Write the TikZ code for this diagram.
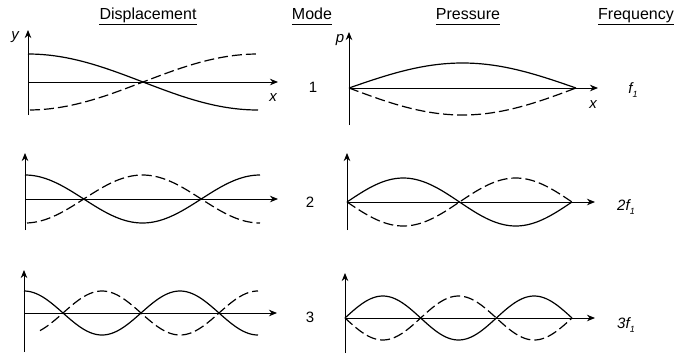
\documentclass[tikz,border=0pt]{standalone}
\usepackage{fontspec}
\setmainfont{Liberation Sans}
\usetikzlibrary{arrows.meta}
\newcommand{\subone}{\raisebox{-3.5pt}{\fontsize{9}{9}\selectfont 1}}
\begin{document}
\begin{tikzpicture}[x=1pt,y=-1pt,
  axis/.style={line width=0.9pt,-{Stealth[length=8pt,width=6.5pt,inset=2.5pt]}},
  wave/.style={line width=1.2pt,smooth},
  dwave/.style={line width=1.2pt,smooth,dash pattern=on 10pt off 4pt},
  head/.style={font=\fontsize{16}{16}\selectfont,inner sep=0pt,anchor=base},
  lab/.style={font=\fontsize{15}{15}\selectfont\itshape,inner sep=0pt},
  num/.style={font=\fontsize{15}{15}\selectfont,inner sep=0pt}]
\useasboundingbox (0,0) rectangle (675,357);
% headers
\node[head] (hd) at (148,19.5) {Displacement};
\node[head] (hm) at (312,19.5) {Mode};
\node[head] (hp) at (468,19.5) {Pressure};
\node[head] (hf) at (636,19.5) {Frequency};
\foreach \n in {hd,hm,hp,hf}{
  \draw[line width=0.7pt] ([yshift=-4.5pt]\n.base west) -- ([yshift=-4.5pt]\n.base east);}
% ---------- displacement, mode 1
\coordinate (d1b) at (28,115); \coordinate (d1t) at (28,30);
\coordinate (d1o) at (28,82);  \coordinate (d1x) at (278,82);
\draw[axis] (d1b) -- (d1t);
\draw[axis] (d1o) -- (d1x);
\node[lab] (ly) at (15,37) {y};
\node[lab] (lx1) at (273,98) {x};
\draw[wave] plot[domain=28:258,samples=60] (\x,{82-28*cos((\x-28)/230*180)});
\draw[dwave] plot[domain=30:258,samples=60] (\x,{82+28*cos((\x-28)/230*180)});
% ---------- displacement, mode 2
\coordinate (d2b) at (25,230); \coordinate (d2t) at (25,153);
\coordinate (d2o) at (25,199); \coordinate (d2x) at (278,199);
\draw[axis] (d2b) -- (d2t);
\draw[axis] (d2o) -- (d2x);
\draw[wave] plot[domain=25:260,samples=80] (\x,{199-24*cos((\x-25)/235*360)});
\draw[dwave] plot[domain=27:260,samples=80] (\x,{199+24*cos((\x-25)/235*360)});
% ---------- displacement, mode 3
\coordinate (d3b) at (24,352); \coordinate (d3t) at (24,270);
\coordinate (d3o) at (24,313); \coordinate (d3x) at (277,313);
\draw[axis] (d3b) -- (d3t);
\draw[axis] (d3o) -- (d3x);
\draw[wave] plot[domain=24:258,samples=100] (\x,{313-22*cos((\x-24)/234*540)});
\draw[dwave] plot[domain=40:258,samples=100] (\x,{313+22*cos((\x-24)/234*540)});
% ---------- mode numbers
\node[num] (m1) at (313,87) {1};
\node[num] (m2) at (310,202) {2};
\node[num] (m3) at (310,317) {3};
% ---------- pressure, mode 1
\coordinate (p1b) at (349,125); \coordinate (p1t) at (349,32);
\coordinate (p1o) at (349,88);  \coordinate (p1x) at (598,88);
\draw[axis] (p1b) -- (p1t);
\draw[axis] (p1o) -- (p1x);
\node[lab] (lp) at (340,40) {p};
\node[lab] (lx2) at (593,105) {x};
\draw[wave] plot[domain=349:576,samples=60] (\x,{88-25*sin((\x-349)/227*180)});
\draw[dwave] plot[domain=349:576,samples=60] (\x,{88+27*sin((\x-349)/227*180)});
% ---------- pressure, mode 2
\coordinate (p2b) at (347,230); \coordinate (p2t) at (347,153);
\coordinate (p2o) at (347,202); \coordinate (p2x) at (595,202);
\draw[axis] (p2b) -- (p2t);
\draw[axis] (p2o) -- (p2x);
\draw[wave] plot[domain=347:572,samples=80] (\x,{202-24*sin((\x-347)/225*360)});
\draw[dwave] plot[domain=347:572,samples=80] (\x,{202+24*sin((\x-347)/225*360)});
% ---------- pressure, mode 3
\coordinate (p3b) at (345,353); \coordinate (p3t) at (345,273);
\coordinate (p3o) at (345,318); \coordinate (p3x) at (595,318);
\draw[axis] (p3b) -- (p3t);
\draw[axis] (p3o) -- (p3x);
\draw[wave] plot[domain=345:572,samples=100] (\x,{318-22*sin((\x-345)/227*540)});
\draw[dwave] plot[domain=345:572,samples=100] (\x,{318+22*sin((\x-345)/227*540)});
% ---------- frequencies
\node[lab] (f1) at (633,90) {f\subone};
\node[lab] (f2) at (626,207) {2f\subone};
\node[lab] (f3) at (626,325) {3f\subone};
\end{tikzpicture}
\end{document}
